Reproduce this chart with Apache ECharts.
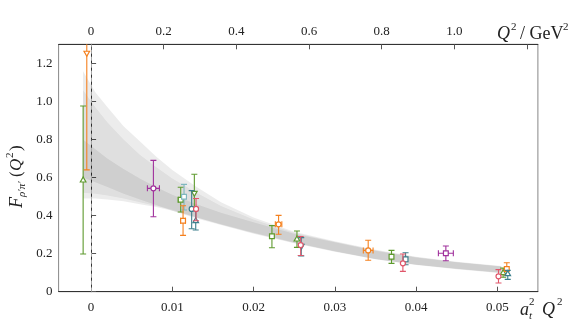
<!DOCTYPE html>
<html><head><meta charset="utf-8">
<script src="https://cdn.jsdelivr.net/npm/echarts@6/dist/echarts.min.js"></script>
<style>html,body{margin:0;padding:0;background:#fff}#c{width:582px;height:326px}</style>
</head><body><div id="c"></div>
<script>
// ---- data: [a_t^2 Q^2, x-error, F, F_low, F_high]
const orangePts = [
  [-0.00053, 0, 1.253, 0.64, 1.9],
  [0.01132, 0.0003, 0.373, 0.296, 0.452],
  [0.02308, 0.0004, 0.354, 0.302, 0.401],
  [0.03411, 0.0006, 0.217, 0.165, 0.270],
  [0.05117, 0, 0.119, 0.088, 0.152]
];
const greenPts = [
  [-0.00098, 0, 0.587, 0.198, 0.976],
  [0.01103, 0.0003, 0.483, 0.419, 0.549],
  [0.01271, 0, 0.517, 0.429, 0.617],
  [0.02226, 0, 0.291, 0.231, 0.347],
  [0.02534, 0, 0.277, 0.233, 0.319],
  [0.03698, 0, 0.184, 0.149, 0.217],
  [0.05072, 0, 0.100, 0.076, 0.124]
];
const purplePts = [
  [0.00767, 0.00074, 0.543, 0.394, 0.690],
  [0.04367, 0.00092, 0.202, 0.163, 0.240]
];
const tealPts = [
  [0.01238, 0, 0.435, 0.331, 0.531],
  [0.01288, 0, 0.373, 0.324, 0.425],
  [0.02587, 0, 0.238, 0.188, 0.284],
  [0.03871, 0, 0.170, 0.142, 0.205],
  [0.05129, 0, 0.095, 0.065, 0.112]
];
const tealLightPts = [
  [0.01144, 0, 0.499, 0.429, 0.564]
];
const redPts = [
  [0.01292, 0, 0.435, 0.373, 0.490],
  [0.02580, 0, 0.245, 0.190, 0.290],
  [0.03838, 0, 0.149, 0.107, 0.198],
  [0.05015, 0, 0.081, 0.046, 0.116]
];
// fit bands (read at these a_t^2 Q^2 values)
const bandX   = [-0.001, 0.0005, 0.002, 0.004, 0.006, 0.008, 0.010, 0.013, 0.016, 0.020, 0.025, 0.030, 0.035, 0.040, 0.045, 0.0505];
const bandAHi = [1.16, 1.05, 0.97, 0.87, 0.79, 0.71, 0.64, 0.55, 0.47, 0.39, 0.315, 0.265, 0.22, 0.183, 0.157, 0.135];
const bandALo = [0.49, 0.49, 0.485, 0.475, 0.46, 0.445, 0.425, 0.39, 0.355, 0.31, 0.258, 0.213, 0.172, 0.142, 0.12, 0.099];
const bandBHi = [1.06, 0.97, 0.89, 0.80, 0.72, 0.655, 0.595, 0.52, 0.45, 0.38, 0.31, 0.263, 0.218, 0.182, 0.156, 0.134];
const bandBLo = [0.52, 0.515, 0.505, 0.49, 0.47, 0.45, 0.43, 0.39, 0.352, 0.307, 0.256, 0.211, 0.171, 0.141, 0.119, 0.098];
const bandCHi = [0.80, 0.75, 0.70, 0.645, 0.595, 0.55, 0.51, 0.46, 0.415, 0.365, 0.305, 0.26, 0.215, 0.18, 0.155, 0.133];
const bandCLo = [0.60, 0.575, 0.55, 0.515, 0.485, 0.455, 0.425, 0.385, 0.35, 0.305, 0.255, 0.21, 0.17, 0.14, 0.118, 0.097];
// reference line at Q^2 = 0
const refLineX = [0];
// ticks
const bottomTicks = [0, 0.01, 0.02, 0.03, 0.04, 0.05];
const topTicks = [0, 0.2, 0.4, 0.6, 0.8, 1.0, 1.2];
const topLabels = [0, 0.2, 0.4, 0.6, 0.8, 1.0];
const xMin = -0.004, xMax = 0.055, yMin = 0, yMax = 1.3;
const gevScale = 0.04471; // a_t^2 per GeV^2

// ---- styles
const orangeSym = ['tridown', 'square', 'circle', 'circle', 'square'];
const greenSym = ['tri', 'square', 'tridown', 'square', 'tri', 'square', 'tri'];
const purpleSym = ['circle', 'square'];
const tealSym = ['circle', 'tri', 'tridown', 'square', 'tri'];
const tealLightSym = ['square'];
const redSym = ['circle', 'circle', 'circle', 'circle'];

function marker(kind, cx, cy, color) {
  const st = { fill: '#fff', stroke: color, lineWidth: 1.2 };
  if (kind === 'circle') return { type: 'circle', shape: { cx, cy, r: 2.5 }, style: st };
  if (kind === 'square') return { type: 'rect', shape: { x: cx - 2.4, y: cy - 2.4, width: 4.8, height: 4.8 }, style: st };
  if (kind === 'tri') return { type: 'polygon', shape: { points: [[cx, cy - 3], [cx - 2.8, cy + 2], [cx + 2.8, cy + 2]] }, style: st };
  return { type: 'polygon', shape: { points: [[cx, cy + 3], [cx - 2.8, cy - 2], [cx + 2.8, cy - 2]] }, style: st };
}
function errSeries(data, color, syms) {
  return {
    type: 'custom', clip: true, z: 5,
    data: data,
    encode: { x: 0, y: 2 },
    renderItem: function (params, api) {
      const x = api.value(0), xe = api.value(1), y = api.value(2), lo = api.value(3), hi = api.value(4);
      const c = api.coord([x, y]), pl = api.coord([x, lo]), ph = api.coord([x, hi]);
      const cap = 3, ls = { stroke: color, lineWidth: 1.1 };
      const ch = [
        { type: 'line', shape: { x1: c[0], y1: pl[1], x2: c[0], y2: ph[1] }, style: ls },
        { type: 'line', shape: { x1: c[0] - cap, y1: pl[1], x2: c[0] + cap, y2: pl[1] }, style: ls },
        { type: 'line', shape: { x1: c[0] - cap, y1: ph[1], x2: c[0] + cap, y2: ph[1] }, style: ls }
      ];
      if (xe > 0) {
        const a = api.coord([x - xe, y]), b = api.coord([x + xe, y]);
        ch.push({ type: 'line', shape: { x1: a[0], y1: c[1], x2: b[0], y2: c[1] }, style: ls });
        ch.push({ type: 'line', shape: { x1: a[0], y1: c[1] - cap, x2: a[0], y2: c[1] + cap }, style: ls });
        ch.push({ type: 'line', shape: { x1: b[0], y1: c[1] - cap, x2: b[0], y2: c[1] + cap }, style: ls });
      }
      ch.push(marker(syms[params.dataIndex], c[0], c[1], color));
      return { type: 'group', children: ch };
    }
  };
}
function bandSeries(xs, lo, hi, fill) {
  return {
    type: 'custom', clip: true, z: 1, silent: true,
    data: xs.map((x, i) => [x, lo[i], hi[i]]),
    encode: { x: 0, y: [1, 2] },
    renderItem: function (params, api) {
      if (params.dataIndex !== 0) return null;
      const pts = [];
      for (let i = 0; i < xs.length; i++) pts.push(api.coord([xs[i], hi[i]]));
      for (let i = xs.length - 1; i >= 0; i--) pts.push(api.coord([xs[i], lo[i]]));
      return { type: 'polygon', shape: { points: pts }, style: { fill: fill } };
    }
  };
}

const FONT = "'Liberation Serif', 'Times New Roman', Times, serif";
const lab = { fontFamily: FONT, fontSize: 13, color: '#222' };
const chart = echarts.init(document.getElementById('c'));
function t(text, x, y, size, italic, extra) {
  return Object.assign({ type: 'text', x: x, y: y, style: { text: text, font: (italic ? 'italic ' : '') + size + 'px ' + FONT, fill: '#222', verticalAlign: 'middle', textVerticalAlign: 'middle' } }, extra || {});
}
chart.setOption({
  animation: false,
  grid: { left: 58.6, right: 44.1, top: 44.3, bottom: 34.3, show: true, borderColor: '#888', borderWidth: 1, backgroundColor: 'transparent' },
  xAxis: [
    {
      type: 'value', position: 'bottom', min: xMin, max: xMax,
      axisLine: { show: true, onZero: false, lineStyle: { color: '#333', width: 1 } },
      axisTick: { show: true, inside: true, length: 5, customValues: bottomTicks, lineStyle: { color: '#555' } },
      axisLabel: { customValues: bottomTicks, margin: 9, formatter: v => v === 0 ? '0' : v.toFixed(2), ...lab },
      splitLine: { show: false }
    },
    {
      type: 'value', position: 'top', min: xMin / gevScale, max: xMax / gevScale,
      axisLine: { show: true, onZero: false, lineStyle: { color: '#333', width: 1 } },
      axisTick: { show: true, inside: true, length: 5, customValues: topTicks, lineStyle: { color: '#555' } },
      axisLabel: { customValues: topLabels, margin: 6, formatter: v => v === 0 ? '0' : v.toFixed(1), ...lab },
      splitLine: { show: false }
    }
  ],
  yAxis: [
    {
      type: 'value', min: yMin, max: yMax, interval: 0.2,
      axisLine: { show: true, lineStyle: { color: '#333', width: 1 } },
      axisTick: { show: true, inside: true, length: 5, lineStyle: { color: '#555' } },
      axisLabel: { margin: 6, formatter: v => v === 0 ? '0' : v.toFixed(1), showMaxLabel: false, ...lab },
      splitLine: { show: false }
    }
  ],
  graphic: [
    // bottom axis name a_t^2 Q^2
    t('a', 520, 310, 18, true),
    t('2', 529, 302, 11, false),
    t('t', 529, 316, 11, true),
    t('Q', 542, 310, 18, true),
    t('2', 557, 302, 11, false),
    // top axis name Q^2 / GeV^2
    t('Q', 497, 34, 18, true),
    t('2', 511, 27, 11, false),
    t('/ GeV', 520, 34, 18, false),
    t('2', 563, 27, 11, false),
    // y axis name
    {
      type: 'group', x: 17, y: 208, rotation: Math.PI / 2,
      children: [
        t('F', 0, 0, 18, true),
        t('ρ′π′', 11, 5, 11, true),
        t('(', 31, 0, 17, false),
        t('Q', 37, 0, 17, true),
        t('2', 50, -7, 11, false),
        t(')', 57, 0, 17, false)
      ]
    }
  ],
  series: [
    bandSeries(bandX, bandALo, bandAHi, 'rgba(0,0,0,0.075)'),
    bandSeries(bandX, bandBLo, bandBHi, 'rgba(0,0,0,0.06)'),
    bandSeries(bandX, bandCLo, bandCHi, 'rgba(0,0,0,0.075)'),
    {
      type: 'custom', silent: true, z: 2, clip: true,
      data: refLineX.map(v => [v]),
      encode: { x: 0 },
      renderItem: function (params, api) {
        const a = api.coord([api.value(0), yMin]), b = api.coord([api.value(0), yMax]);
        const px = Math.round(a[0]) + 0.5;
        return { type: 'line', shape: { x1: px, y1: a[1], x2: px, y2: b[1] },
          style: { stroke: '#a8a8a8', lineWidth: 1, lineDash: [4, 3] } };
      }
    },
    errSeries(greenPts, '#5e9a2e', greenSym),
    errSeries(tealLightPts, '#7fb7bf', tealLightSym),
    errSeries(orangePts, '#f5801e', orangeSym),
    errSeries(purplePts, '#a0309c', purpleSym),
    errSeries(tealPts, '#3c7f8c', tealSym),
    errSeries(redPts, '#e0566a', redSym)
  ]
});
</script></body></html>
